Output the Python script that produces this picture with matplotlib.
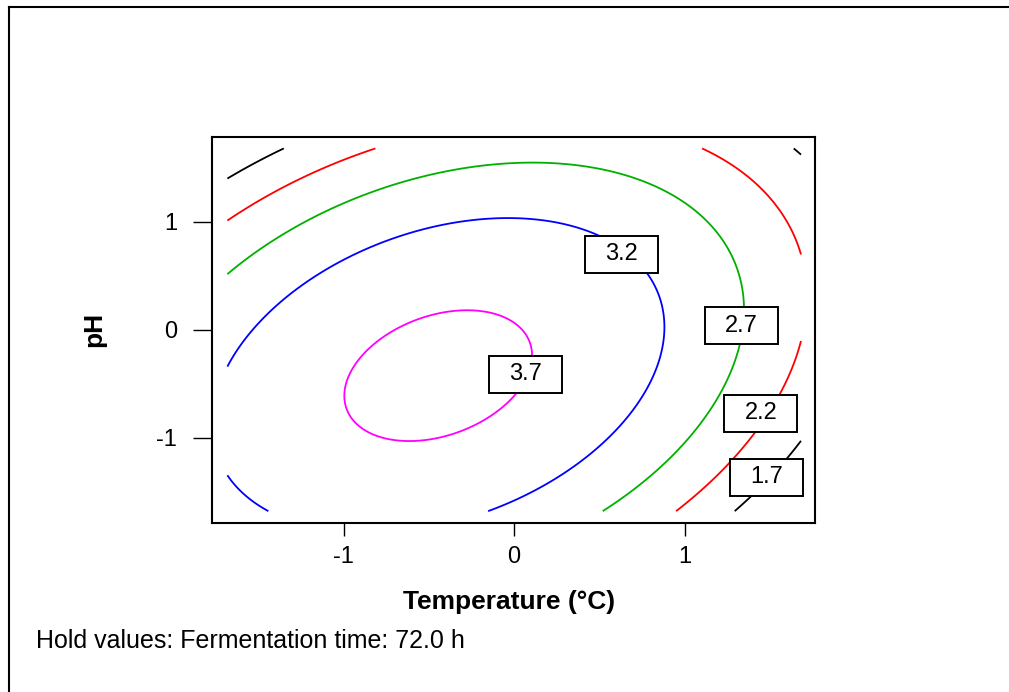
import numpy as np
import matplotlib
matplotlib.use("Agg")
import matplotlib.pyplot as plt
from matplotlib.patches import Rectangle
from matplotlib.lines import Line2D

# fitted second-order model (coded units), Fermentation time held at 72.0 h
b0 = 3.7124
b_temp, b_ph = -0.2477, -0.1713
b_temp2, b_ph2 = -0.3793, -0.3125
b_temp_ph = 0.2123

coded_lo, coded_hi = -1.682, 1.682

levels = [1.7, 2.2, 2.7, 3.2, 3.7]
level_colors = ["black", "#FF0000", "#00B000", "#0000FF", "#FF00FF"]

# where Minitab put the contour labels
label_levels = [3.2, 2.7, 3.7, 2.2, 1.7]
label_x = [0.630, 1.334, 0.068, 1.447, 1.481]
label_y = [0.700, 0.037, -0.412, -0.772, -1.369]

ticks = [-1, 0, 1]
hold_text = "Hold values: Fermentation time: 72.0 h"

plt.rcParams["font.family"] = ["Liberation Sans", "DejaVu Sans"]
plt.rcParams["axes.unicode_minus"] = False

fig = plt.figure(figsize=(10.09, 6.92), dpi=100)
ax = fig.add_axes([0.2098, 0.2447, 0.5979, 0.5578])

grid = np.linspace(coded_lo, coded_hi, 400)
T, P = np.meshgrid(grid, grid)
Y = b0 + b_temp * T + b_ph * P + b_temp2 * T**2 + b_ph2 * P**2 + b_temp_ph * T * P

ax.contour(T, P, Y, levels=levels, colors=level_colors, linewidths=1.3)

# boxed labels
bw, bh = 0.428, 0.343
for lv, x, y in zip(label_levels, label_x, label_y):
    ax.add_patch(Rectangle((x - bw / 2, y - bh / 2), bw, bh, facecolor="white",
                           edgecolor="black", lw=1.4, zorder=5))
    ax.text(x, y, "%.1f" % lv, ha="center", va="center", fontsize=17, zorder=6)

ax.set_xlim(-1.774, 1.764)
ax.set_ylim(-1.789, 1.791)
ax.set_xticks(ticks)
ax.set_yticks(ticks)
ax.set_xticklabels([str(t) for t in ticks])
ax.set_yticklabels([str(t) for t in ticks])
for s in ax.spines.values():
    s.set_linewidth(1.5)
ax.tick_params(axis="x", direction="out", length=9, width=1.0, pad=8, labelsize=17)
ax.tick_params(axis="y", direction="out", length=14, width=1.0, pad=11, labelsize=17)

ax.set_xlabel("Temperature (°C)", fontsize=19, fontweight="bold")
ax.set_ylabel("pH", fontsize=19, fontweight="bold")
ax.xaxis.set_label_coords(0.493, -0.175)
ax.yaxis.set_label_coords(-0.175, 0.5)

fig.text(36 / 1009, 1 - 641 / 692, hold_text, fontsize=18, ha="left", va="center")

# outer frame (only top and left edges fall inside the image)
fig.add_artist(Line2D([8.5 / 1009, 1.01], [1 - 6.5 / 692] * 2, color="black", lw=1.5))
fig.add_artist(Line2D([8.5 / 1009] * 2, [-0.01, 1 - 6.5 / 692], color="black", lw=1.5))

fig.savefig("out.png", dpi=100)
